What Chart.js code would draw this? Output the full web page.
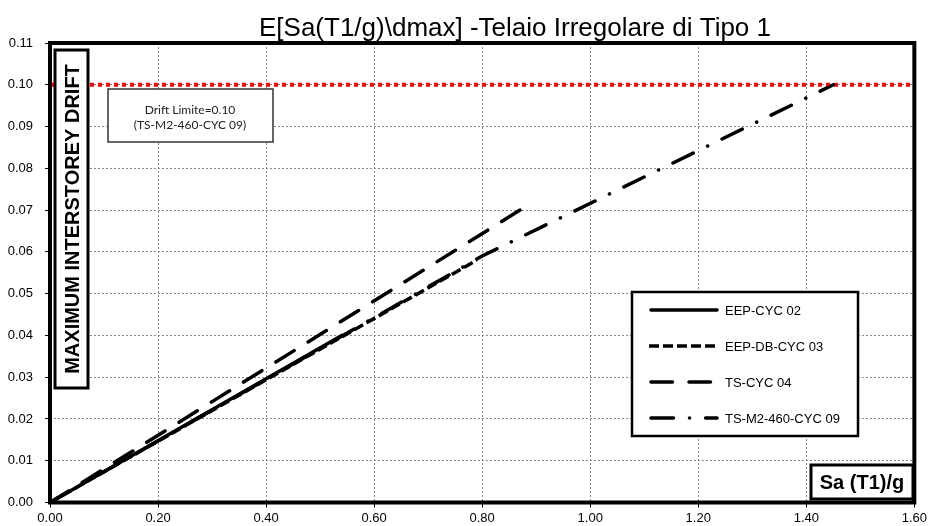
<!DOCTYPE html>
<html>
<head>
<meta charset="utf-8">
<script src="https://cdn.jsdelivr.net/npm/chart.js@4"></script>
<style>
  html, body { margin: 0; padding: 0; background: #fff; }
  #c { display: block; }
</style>
</head>
<body>
<canvas id="c" width="930" height="526"></canvas>
<script>
// Data
const titleText = "E[Sa(T1/g)\\dmax] -Telaio Irregolare di Tipo 1";
const xTicks = [0, 0.2, 0.4, 0.6, 0.8, 1.0, 1.2, 1.4, 1.6];
const yTicks = [0, 0.01, 0.02, 0.03, 0.04, 0.05, 0.06, 0.07, 0.08, 0.09, 0.10, 0.11];

const seriesNames = ["EEP-CYC 02", "EEP-DB-CYC 03", "TS-CYC 04", "TS-M2-460-CYC 09"];
const saCyc02 = [0, 0.54];
const driftCyc02 = [0, 0.040];
const saCyc03 = [0, 0.79];
const driftCyc03 = [0, 0.058];
const saCyc04 = [0, 0.87];
const driftCyc04 = [0, 0.070];
const saCyc09 = [0, 0.80, 1.45];
const driftCyc09 = [0, 0.059, 0.100];

const limitSa = [0, 1.6];
const limitDrift = [0.10, 0.10];

const toPoints = (xs, ys) => xs.map((x, i) => ({ x: x, y: ys[i] }));

// line styles (round caps make dashes look longer, so dash values are shortened)
const styles = [
  { dash: [], cap: "round" },
  { dash: [10, 4], cap: "butt" },
  { dash: [21.5, 16.5], cap: "round" },
  { dash: [22.5, 16, 0.1, 16], cap: "round" }
];

const seriesData = [
  toPoints(saCyc02, driftCyc02),
  toPoints(saCyc03, driftCyc03),
  toPoints(saCyc04, driftCyc04),
  toPoints(saCyc09, driftCyc09)
];

const datasets = seriesData.map((pts, i) => ({
  label: seriesNames[i],
  data: pts,
  borderColor: "#000",
  borderWidth: 3.5,
  borderDash: styles[i].dash,
  borderCapStyle: styles[i].cap,
  pointRadius: 0,
  tension: 0,
  fill: false
}));

datasets.push({
  label: "Drift Limite",
  data: toPoints(limitSa, limitDrift),
  borderColor: "#ff0000",
  borderWidth: 4,
  borderDash: [4, 4],
  borderCapStyle: "butt",
  pointRadius: 0,
  fill: false
});

// Boxes, titles and legend
const decorations = {
  id: "decorations",
  afterDraw(chart) {
    const ctx = chart.ctx;
    const a = chart.chartArea;
    ctx.save();

    // plot frame
    ctx.setLineDash([]);
    ctx.strokeStyle = "#000";
    ctx.lineWidth = 4;
    ctx.strokeRect(a.left, a.top, a.right - a.left, a.bottom - a.top);

    // chart title
    ctx.fillStyle = "#000";
    ctx.font = "26px 'Liberation Sans', Arial, sans-serif";
    ctx.textAlign = "center";
    ctx.textBaseline = "alphabetic";
    ctx.fillText(titleText, 515, 36);

    // y axis title box
    ctx.fillStyle = "#fff";
    ctx.fillRect(55, 50, 33, 338);
    ctx.lineWidth = 3;
    ctx.strokeRect(55, 50, 33, 338);
    ctx.save();
    ctx.translate(72, 219);
    ctx.rotate(-Math.PI / 2);
    ctx.fillStyle = "#000";
    ctx.font = "bold 20px 'Liberation Sans', Arial, sans-serif";
    ctx.textAlign = "center";
    ctx.textBaseline = "middle";
    ctx.fillText("MAXIMUM INTERSTOREY DRIFT", 0, 1);
    ctx.restore();

    // x axis title box
    ctx.fillStyle = "#fff";
    ctx.fillRect(811, 465, 102, 34);
    ctx.lineWidth = 3;
    ctx.strokeRect(811, 465, 102, 34);
    ctx.fillStyle = "#000";
    ctx.font = "bold 20px 'Liberation Sans', Arial, sans-serif";
    ctx.textAlign = "center";
    ctx.textBaseline = "middle";
    ctx.fillText("Sa (T1)/g", 862, 483);

    // drift limit note
    ctx.fillStyle = "#fff";
    ctx.fillRect(108, 89, 165, 53);
    ctx.lineWidth = 1.5;
    ctx.strokeStyle = "#333";
    ctx.strokeRect(108, 89, 165, 53);
    ctx.fillStyle = "#222";
    ctx.font = "12px Lato, 'Liberation Sans', sans-serif";
    ctx.fillText("Drift Limite=0.10", 190, 110);
    ctx.fillText("(TS-M2-460-CYC 09)", 190, 125);

    // legend
    ctx.fillStyle = "#fff";
    ctx.fillRect(632, 292, 226, 144);
    ctx.strokeStyle = "#000";
    ctx.lineWidth = 2.5;
    ctx.strokeRect(632, 292, 226, 144);
    const rows = [310, 346, 382, 418];
    ctx.font = "13px 'Liberation Sans', Arial, sans-serif";
    ctx.textAlign = "left";
    seriesNames.forEach((name, i) => {
      ctx.beginPath();
      ctx.setLineDash(styles[i].dash);
      ctx.lineCap = styles[i].cap;
      ctx.lineWidth = 3.5;
      ctx.strokeStyle = "#000";
      ctx.moveTo(styles[i].cap === "butt" ? 649 : 651, rows[i]);
      ctx.lineTo(styles[i].cap === "butt" ? 719 : 717, rows[i]);
      ctx.stroke();
      ctx.setLineDash([]);
      ctx.fillStyle = "#000";
      ctx.fillText(name, 725, rows[i] + 1);
    });

    ctx.restore();
  }
};

const tickFont = { family: "'Liberation Sans Narrow', 'Liberation Sans', Arial, sans-serif", size: 13 };

new Chart(document.getElementById("c"), {
  type: "line",
  data: { datasets: datasets },
  options: {
    responsive: false,
    animation: false,
    layout: { padding: { left: 0, right: 13, top: 43, bottom: 0 } },
    plugins: {
      legend: { display: false },
      title: { display: false },
      tooltip: { enabled: false }
    },
    scales: {
      x: {
        type: "linear",
        min: 0,
        max: 1.6,
        afterBuildTicks: s => { s.ticks = xTicks.map(v => ({ value: v })); },
        afterFit: s => { s.height = 23.5; },
        ticks: {
          color: "#000",
          font: tickFont,
          padding: 3,
          maxRotation: 0,
          autoSkip: false,
          callback: v => Number(v).toFixed(2)
        },
        grid: {
          color: "#8a8a8a",
          lineWidth: 1,
          tickLength: 5,
          tickColor: "#000",
          tickBorderDash: [1, 0]
        },
        border: { display: false, dash: [2, 2] }
      },
      y: {
        type: "linear",
        min: 0,
        max: 0.11,
        afterBuildTicks: s => { s.ticks = yTicks.map(v => ({ value: v })); },
        afterFit: s => { s.width = 50; },
        ticks: {
          color: "#000",
          font: tickFont,
          padding: 12,
          autoSkip: false,
          callback: v => Number(v).toFixed(2)
        },
        grid: {
          color: "#8a8a8a",
          lineWidth: 1,
          tickLength: 5,
          tickColor: "#000",
          tickBorderDash: [1, 0]
        },
        border: { display: false, dash: [2, 2] }
      }
    }
  },
  plugins: [decorations]
});
</script>
</body>
</html>
